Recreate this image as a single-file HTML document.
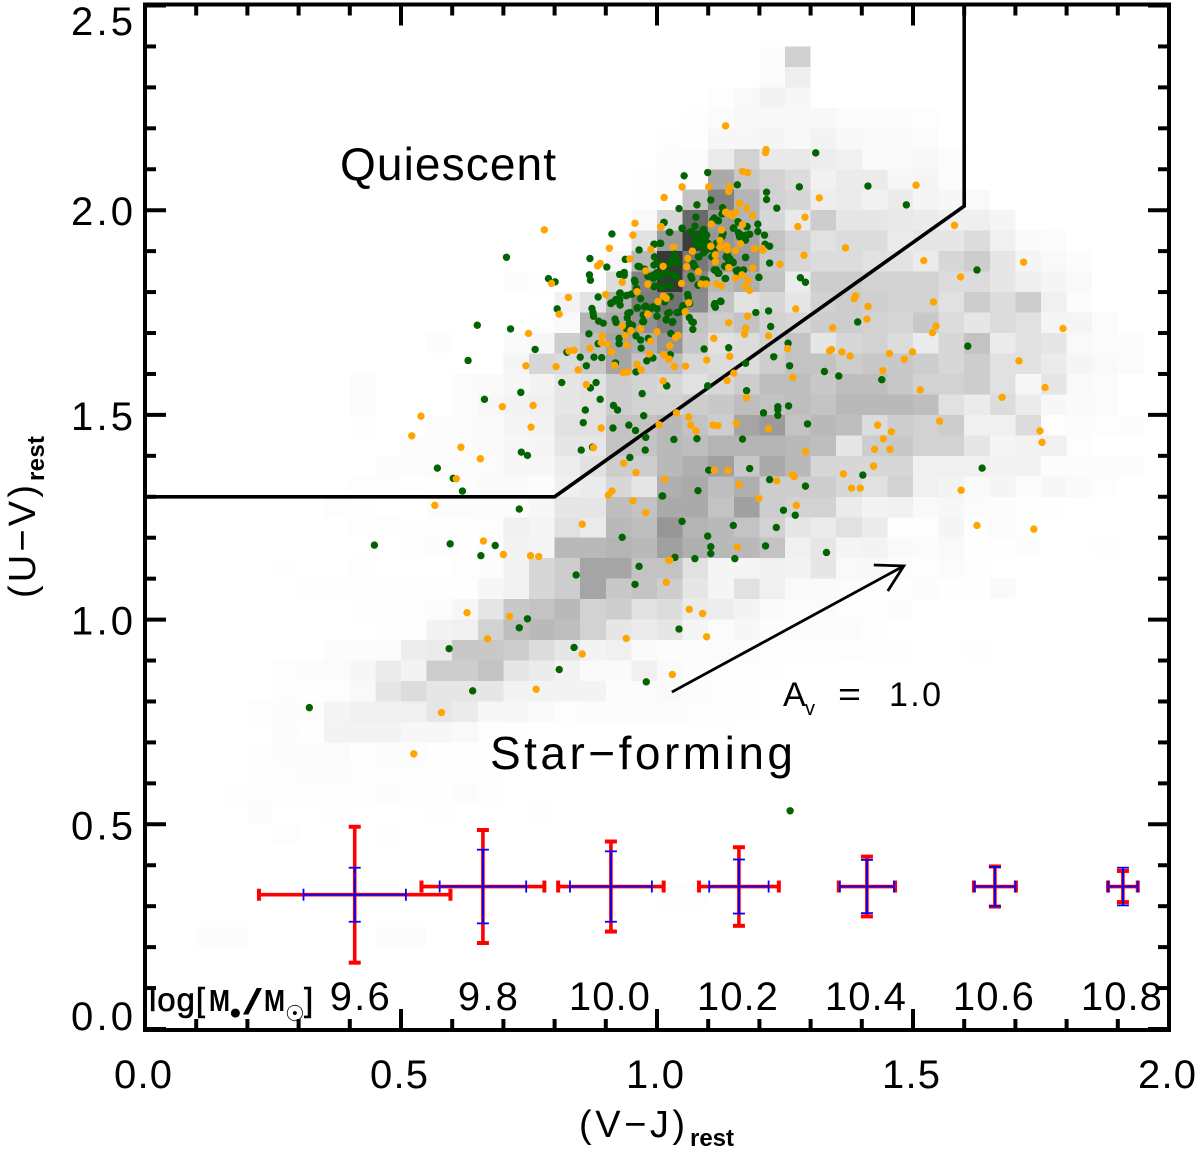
<!DOCTYPE html>
<html lang="en">
<head>
<meta charset="utf-8">
<title>UVJ colour-colour diagram</title>
<style>
html,body{margin:0;padding:0;background:#fff;width:1200px;height:1150px;overflow:hidden}
svg{display:block}
text{font-family:"Liberation Sans","DejaVu Sans",sans-serif;fill:#000}
</style>
</head>
<body>
<svg id="chart" xmlns="http://www.w3.org/2000/svg" width="1200" height="1150" viewBox="0 0 1200 1150">
<g id="heat" shape-rendering="crispEdges"></g>
<g id="sel"></g>
<g id="green"></g>
<g id="orange"></g>
<g id="errs"></g>
<g id="arrow"></g>
<g id="axes"></g>
<g id="labels"></g>

<text x="340" y="180" font-size="46" textLength="216" lengthAdjust="spacing">Quiescent</text>
<text x="490" y="769" font-size="46" textLength="303" lengthAdjust="spacing">Star−forming</text>
<g>
<text x="783" y="706" font-size="34">A</text>
<text x="805" y="715" font-size="20">v</text>
<text x="838" y="706" font-size="34" textLength="23" lengthAdjust="spacingAndGlyphs">=</text>
<text x="889" y="706" font-size="34" textLength="52" lengthAdjust="spacing">1.0</text>
</g>
<g>
<text x="579" y="1137" font-size="38" textLength="106" lengthAdjust="spacing">(V−J)</text>
<text x="690" y="1146" font-size="24" font-weight="bold" textLength="44" lengthAdjust="spacing">rest</text>
</g>
<g>
<text transform="translate(35,598) rotate(-90)" font-size="38" textLength="113" lengthAdjust="spacing">(U−V)</text>
<text transform="translate(44,481) rotate(-90)" font-size="24" font-weight="bold" textLength="45" lengthAdjust="spacing">rest</text>
</g>
<g>
<text x="149" y="1011" font-size="33" stroke="#000" stroke-width="0.6" textLength="56" lengthAdjust="spacing">log[</text>
<text x="209" y="1011" font-size="31" font-weight="bold" textLength="21" lengthAdjust="spacingAndGlyphs">M</text>
<text x="229" y="1019" font-size="21">●</text>
<text x="243" y="1014" font-size="36" textLength="19" lengthAdjust="spacingAndGlyphs">/</text>
<text x="264" y="1011" font-size="31" font-weight="bold" textLength="21" lengthAdjust="spacingAndGlyphs">M</text>
<text x="285" y="1021" font-size="22" style="font-family:'DejaVu Sans',sans-serif">☉</text>
<text x="304" y="1011" font-size="33" stroke="#000" stroke-width="0.6">]</text>
</g>
</svg>
<script>
// ---- tick data ----
const xMajorTicks=[0,0.5,1,1.5,2];
const xTickLabels=["0.0","0.5","1.0","1.5","2.0"];
const xMinorTicks=[0.1,0.2,0.3,0.4,0.6,0.7,0.8,0.9,1.1,1.2,1.3,1.4,1.6,1.7,1.8,1.9];
const yMajorTicks=[0,0.5,1,1.5,2,2.5];
const yTickLabels=["0.0","0.5","1.0","1.5","2.0","2.5"];
const yMinorTicks=[0.1,0.2,0.3,0.4,0.6,0.7,0.8,0.9,1.1,1.2,1.3,1.4,1.6,1.7,1.8,1.9,2.1,2.2,2.3,2.4];

// ---- selection boundary ----
const boundaryVJ=[0,0.8,1.6,1.6];
const boundaryUV=[1.3,1.3,2.01,2.5];

// ---- extinction arrow ----
const arrowStart=[1.029,0.823];
const arrowEnd=[1.482,1.131];

// ---- heatmap: bin lower edges (bin size 0.05) and darkness per bin ----
const heatBinSize=0.05;
const heatRowUV=[2.35,2.30,2.25,2.20,2.15,2.10,2.05,2.00,1.95,1.90,1.85,1.80,1.75,1.70,1.65,1.60,1.55,1.50,1.45,1.40,1.35,1.30,1.25,1.20,1.15,1.10,1.05,1.00,0.95,0.90,0.85,0.80,0.75,0.70,0.65,0.60,0.55,0.50,0.45,0.30,0.20];
const heatRowStartVJ=[1.20,1.20,1.10,1.05,1.00,1.00,0.95,0.95,0.95,0.95,0.90,0.70,0.80,0.75,0.55,0.70,0.40,0.40,0.40,0.50,0.45,0.40,0.35,0.40,0.50,0.25,0.30,0.40,0.45,0.35,0.25,0.25,0.20,0.25,0.20,0.20,0.15,0.20,0.25,1.00,0.10];
const heatRowValues=[
[3,47],
[4,17],
[2,6,12,8],
[1,4,7,7,7,7,4,3,3,2],
[2,1,8,8,10,7,12,7,6,5,4],
[3,4,20,45,22,22,18,14,5,5,7,3],
[2,4,3,85,55,45,35,14,20,20,8,10,3],
[1,3,60,125,75,45,40,18,20,14,20,10,8,6],
[6,40,150,100,75,40,22,50,25,25,22,20,16,16,10],
[30,100,195,105,95,60,45,30,35,35,20,25,25,35,15,5,4],
[8,70,200,135,110,100,55,40,35,35,30,28,20,40,50,25,10,6,3],
[3,1,0,0,35,125,200,120,70,80,60,20,50,50,45,45,45,35,35,25,16,10,6],
[12,28,75,130,140,115,60,30,40,25,45,50,48,45,45,30,50,35,50,15,3],
[2,6,75,85,110,130,60,50,60,45,40,50,50,45,40,55,35,25,35,30,10,10,4],
[3,0,0,6,8,50,65,90,80,105,55,30,35,45,60,25,40,45,35,20,40,60,20,30,25,6,4,3],
[10,40,35,55,90,60,65,40,35,35,50,60,60,50,55,55,50,40,50,30,30,20,10,6,4],
[3,0,0,0,4,5,8,12,25,30,50,45,40,30,40,50,65,65,55,65,65,55,45,45,50,30,8,25,6,4],
[3,0,0,0,3,8,12,15,25,30,50,45,45,50,55,65,60,65,60,70,70,70,65,30,20,35,20,8,5,4],
[1,0,0,3,4,5,10,12,30,30,60,60,70,60,50,90,100,60,70,65,35,50,45,50,15,15,35,2,3,2,3],
[3,3,4,5,8,10,25,25,60,60,70,65,75,75,75,70,65,25,50,55,45,45,25,10,12,15,2],
[3,3,4,4,4,8,8,18,30,50,50,70,80,95,55,85,70,40,40,40,40,15,15,15,12,12,3,3,3,3],
[2,2,1,2,3,5,5,3,15,20,40,25,80,85,65,80,50,50,50,40,30,45,15,12,6,10,3,8,5,2],
[2,1,0,0,4,3,3,3,8,25,25,65,60,85,85,60,95,50,45,45,20,12,15,6,8,4,3,2,1],
[2,2,1,1,1,2,15,10,30,20,70,65,105,75,70,60,45,25,20,30,20,2,2,10,2,4,1],
[2,3,1,3,12,10,70,70,75,70,95,80,70,70,60,15,25,10,12,6,4,6,1,1,3,0,0,1],
[1,0,0,2,0,0,0,2,3,12,40,50,90,90,60,60,30,10,10,15,12,25,6,7,3,2,4,1],
[1,1,1,1,1,1,1,8,12,40,50,90,55,60,50,25,10,30,15,6,5,4,2,1,3,1,1,5],
[1,1,2,3,8,25,55,60,70,45,50,30,35,20,18,12,5,3,4,2,2,3],
[1,1,12,15,45,65,70,65,45,25,20,25,10,4,8,3,3,3,3,1],
[3,3,3,18,20,55,55,50,35,25,12,15,5,3,3,4,3,2,1,1,2,1,1,0,0,1],
[2,3,4,8,20,12,50,50,60,25,20,12,5,5,15,5,3,2,2,2],
[2,1,2,6,25,35,25,25,25,12,12,12,12,3,3,5,3,2,2],
[2,3,3,10,15,15,15,25,20,8,8,5,2,3,3,3,3,2,2,1],
[3,1,12,12,12,8,8,6,2,1],
[1,3,3,4,1,3,3,1,1,1],
[2,2,3,3,2,2,2,2,2,1],
[1,2,1,1,1,1,3,1,1,3,1],
[3,0,0,1,0,0,0,1,0,0,0,1],
[2,0,0,0,1],
[2,2],
[3,3,0,0,0,0,0,3,3]
];

// ---- scatter points: [V-J, U-V] ----
const greenPoints=[
[.706,1.885],[.912,1.942],[1.013,1.970],[.995,1.917],[1.006,1.919],[.965,1.903],[.869,1.882],[.902,1.861],[.938,1.880],[.995,1.886],[.999,1.870],[.963,1.863],[.976,1.856],[.868,1.842],[.870,1.829],[.788,1.833],[.801,1.825],[.927,1.843],[.936,1.848],[.936,1.841],[.988,1.838],[.994,1.842],[.999,1.847],[1.006,1.838],[.993,1.834],[1.018,1.846],[.957,1.825],[.996,1.815],[1.010,1.813],[.960,1.809],[.885,1.788],[.928,1.798],[.941,1.792],[.951,1.795],[.968,1.784],[.910,1.773],[.920,1.782],[.927,1.783],[.928,1.768],[.917,1.778],[.805,1.759],[.873,1.760],[.875,1.750],[.876,1.741],[.961,1.761],[.978,1.766],[.988,1.760],[1.000,1.759],[.973,1.744],[.947,1.750],[.942,1.737],[1.018,1.733],[.974,1.728],[.918,1.734],[.920,1.726],[.886,1.729],[.895,1.724],[.952,1.719],[.941,1.709],[.649,1.719],[.714,1.710],[.867,1.698],[.926,1.687],[.926,1.674],[.959,1.693],[.968,1.683],[.983,1.687],[.885,1.674],[.762,1.660],[.969,1.663],[.824,1.653],[.850,1.641],[.877,1.641],[.892,1.640],[.631,1.633],[.992,1.639],[.980,1.632],[.862,1.620],[.919,1.627],[.959,1.605],[.814,1.579],[.881,1.579],[.870,1.566],[.734,1.555],[.971,1.552],[1.019,1.571],[.663,1.538],[.889,1.538],
[1.310,2.140],[1.099,2.092],[1.053,2.084],[1.157,2.062],[1.278,2.057],[1.412,2.059],[1.487,2.013],[1.214,2.044],[1.214,2.026],[1.105,2.025],[1.078,2.013],[1.234,2.005],[1.043,2.004],[1.128,2.006],[1.127,1.991],[1.076,1.983],[1.112,1.981],[1.119,1.975],[1.014,1.970],[1.159,1.971],[1.175,1.960],[1.197,1.966],[1.197,1.948],[1.049,1.956],[1.074,1.961],[1.149,1.956],[1.091,1.953],[1.025,1.946],[1.066,1.947],[1.159,1.945],[1.161,1.935],[1.173,1.927],[1.180,1.941],[1.174,1.939],[1.210,1.939],[1.081,1.938],[1.087,1.941],[1.097,1.939],[1.076,1.925],[1.084,1.923],[1.094,1.929],[1.090,1.915],[1.007,1.919],[1.211,1.917],[1.220,1.912],[1.097,1.903],[1.091,1.896],[1.111,1.901],[1.107,1.886],[1.137,1.891],[1.142,1.880],[1.149,1.872],[1.140,1.874],[1.173,1.884],[1.034,1.893],[1.037,1.882],[1.028,1.878],[1.025,1.868],[1.041,1.870],[1.081,1.886],[1.220,1.871],[1.132,1.863],[1.116,1.854],[1.121,1.846],[1.158,1.854],[1.169,1.854],[1.158,1.844],[1.071,1.870],[1.074,1.862],[1.018,1.846],[1.031,1.842],[1.038,1.836],[1.066,1.839],[1.068,1.833],[1.199,1.836],[1.134,1.833],[1.280,1.835],[1.290,1.824],[1.091,1.829],[1.094,1.821],[1.081,1.817],[1.010,1.813],[1.025,1.816],[1.060,1.794],[1.061,1.786],[1.026,1.789],[1.015,1.776],[1.125,1.777],[1.113,1.772],[1.114,1.763],[1.051,1.767],[1.193,1.750],[1.218,1.754],[1.021,1.748],[1.039,1.750],[1.045,1.752],[1.063,1.738],[1.068,1.728],[1.071,1.726],[1.018,1.732],[1.030,1.726],[1.392,1.727],[1.222,1.716],[1.070,1.709],[1.027,1.699],[1.256,1.675],[1.092,1.661],[1.140,1.664],[1.607,1.668],[1.625,1.854],[1.026,1.647],[1.228,1.642],[1.173,1.626],[1.259,1.620],[1.327,1.606],[1.355,1.595],[1.439,1.586],[1.019,1.571],[1.099,1.571],[1.175,1.559],
[.915,1.523],[.923,1.512],[.860,1.512],[.974,1.498],[.856,1.481],[.914,1.468],[.945,1.475],[.958,1.462],[.978,1.445],[.852,1.414],[.874,1.421],[.977,1.414],[.735,1.409],[.747,1.401],[.947,1.396],[.571,1.370],[.602,1.345],[.620,1.314],[1.011,1.302],[.731,1.270],[.932,1.201],[.448,1.182],[.596,1.185],[.684,1.181],[.656,1.156],[.965,1.130],[.842,1.109],[.957,1.086],[.747,1.002],[.731,.980],[.594,.929],[.838,.932],[.809,.878],[.979,.848],[.640,.826],[.321,.785],
[1.236,1.520],[1.236,1.513],[1.236,1.499],[1.257,1.522],[1.208,1.505],[1.294,1.478],[1.033,1.440],[1.078,1.442],[1.167,1.441],[1.101,1.365],[1.181,1.369],[1.635,1.370],[1.402,1.353],[1.220,1.342],[1.290,1.326],[1.080,1.315],[1.010,1.302],[1.247,1.267],[1.270,1.255],[1.049,1.240],[1.149,1.230],[1.233,1.225],[1.099,1.204],[1.105,1.178],[1.105,1.161],[1.212,1.180],[1.331,1.164],[1.035,1.152],[1.074,1.149],[1.152,1.149],[1.043,.977],[1.260,.533],
[1.005,1.868],[1.034,1.878],[1.031,1.842],[1.037,1.838],[1.018,1.847],[1.075,1.927],[1.090,1.952],[1.091,1.935],[1.096,1.903],[1.082,1.886],[1.070,1.866],[1.077,1.911],[1.100,1.919],[1.065,1.947],[1.049,1.956],[1.024,1.946],[.994,1.917],[1.007,1.919],[.994,1.866],[.982,1.839],[.992,1.839],[1.004,1.844],[1.011,1.813],[.994,1.813],[1.026,1.817],[.956,1.829],[.966,1.862],[.976,1.764],[.992,1.764],[1.000,1.741],[1.018,1.732],[1.031,1.728],[1.041,1.750],[1.060,1.794],[1.064,1.772],[1.050,1.764],[1.024,1.750],[.972,1.728],[.962,1.762],[.943,1.748],[.946,1.723],[.927,1.797],[.940,1.791],[.950,1.795],[.910,1.772],[.927,1.780],
[1.080,1.817],[1.090,1.831],[1.096,1.829],[1.133,1.833],[1.112,1.854],[1.119,1.846],[1.142,1.882],[1.148,1.874],[1.135,1.886],[1.127,1.935],[1.116,1.919],[1.129,1.943],[1.109,1.976],[1.120,1.974],[1.150,1.957],[1.158,1.972],[1.176,1.960],[1.165,1.939],[1.181,1.941],[1.173,1.885],[1.155,1.852],[1.167,1.852],[1.199,1.836],[1.112,1.768],[1.124,1.778]
];
const orangePoints=[
[.780,1.952],[.957,1.968],[1.014,2.031],[1.007,1.959],[.953,1.939],[.907,1.907],[.988,1.904],[.947,1.881],[.889,1.870],[.884,1.864],[1.012,1.863],[.978,1.852],[.932,1.824],[.982,1.819],[.794,1.821],[.961,1.801],[.900,1.794],[.827,1.787],[1.012,1.790],[1.002,1.777],[.809,1.746],[.982,1.746],[.932,1.717],[.949,1.706],[.968,1.710],[.749,1.699],[1.000,1.703],[.893,1.693],[.938,1.694],[.988,1.680],[.891,1.677],[.903,1.673],[.941,1.671],[.869,1.663],[.828,1.656],[.838,1.658],[.911,1.654],[.985,1.649],[1.013,1.647],[1.023,1.636],[.744,1.620],[.803,1.618],[.961,1.623],[.917,1.621],[.846,1.610],[.969,1.610],[.934,1.603],[.943,1.605],[1.012,1.583],[.862,1.574],
[1.134,2.206],[1.213,2.148],[1.212,2.141],[1.167,2.095],[1.177,2.092],[1.101,2.057],[1.049,2.057],[1.142,2.057],[1.140,2.046],[1.317,2.030],[1.506,2.061],[1.161,2.017],[1.175,2.005],[1.134,1.995],[1.140,1.991],[1.147,1.987],[1.154,1.995],[1.187,1.987],[1.289,1.983],[1.106,1.966],[1.167,1.965],[1.275,1.960],[1.581,1.963],[1.008,1.960],[1.126,1.952],[1.123,1.926],[1.368,1.908],[1.105,1.912],[1.123,1.910],[1.136,1.913],[1.137,1.903],[1.032,1.910],[1.069,1.900],[1.114,1.891],[1.153,1.901],[1.163,1.918],[1.190,1.906],[1.205,1.907],[1.207,1.902],[1.060,1.882],[1.287,1.890],[1.521,1.877],[1.716,1.873],[1.114,1.874],[1.240,1.868],[1.058,1.862],[1.140,1.860],[1.187,1.859],[1.081,1.850],[1.593,1.837],[1.166,1.842],[1.153,1.834],[1.178,1.829],[1.048,1.821],[1.086,1.820],[1.096,1.820],[1.116,1.820],[1.126,1.815],[1.172,1.814],[1.181,1.804],[1.018,1.785],[1.062,1.774],[1.385,1.784],[1.388,1.791],[1.540,1.776],[1.412,1.765],[1.271,1.759],[1.055,1.752],[1.177,1.741],[1.410,1.734],[1.140,1.725],[1.545,1.717],[1.343,1.713],[1.173,1.712],[1.171,1.697],[1.538,1.701],[1.793,1.711],[1.218,1.693],[1.041,1.694],[1.036,1.689],[1.111,1.687],[1.025,1.669],[1.255,1.662],[1.341,1.660],[1.337,1.656],[1.361,1.654],[1.377,1.644],[1.454,1.650],[1.499,1.654],[1.483,1.636],[1.707,1.632],[1.014,1.646],[1.024,1.636],[1.142,1.643],[1.097,1.634],[1.056,1.619],[1.034,1.618],[1.441,1.608],[1.150,1.602],[1.137,1.584],[1.265,1.592],[1.514,1.561],[1.758,1.567],[1.674,1.543],[1.175,1.542],
[.539,1.497],[.698,1.520],[.758,1.523],[.521,1.449],[.754,1.470],[.891,1.468],[.617,1.421],[.655,1.393],[.876,1.420],[1.004,1.476],[.935,1.382],[.959,1.359],[1.015,1.343],[.608,1.344],[.912,1.314],[.905,1.304],[.953,1.290],[.566,1.279],[.978,1.261],[.854,1.233],[.661,1.192],[.700,1.159],[.753,1.156],[.769,1.154],[1.023,1.145],[1.018,1.091],[.629,1.017],[.712,1.008],[.669,.953],[.940,.954],[.854,.916],[.764,.830],[.579,.773],[.525,.672],
[1.038,1.505],[1.062,1.495],[1.066,1.475],[1.076,1.461],[1.109,1.475],[1.119,1.474],[1.155,1.479],[1.218,1.466],[1.431,1.475],[1.458,1.459],[1.442,1.442],[1.425,1.416],[1.455,1.416],[1.552,1.485],[1.748,1.461],[1.752,1.433],[1.290,1.410],[1.423,1.375],[1.112,1.365],[1.138,1.364],[1.364,1.356],[1.264,1.354],[1.268,1.349],[1.234,1.339],[1.160,1.330],[1.380,1.321],[1.397,1.321],[1.594,1.316],[1.199,1.296],[1.272,1.279],[1.625,1.230],[1.736,1.221],[1.157,1.177],[1.025,1.145],[1.063,1.025],[1.089,1.015],[1.097,.958],[1.030,.866]
];

// ---- error bars per stellar-mass bin ----
const massLabels=["9.6","9.8","10.0","10.2","10.4","10.6","10.8"];
const errCenterVJ=[.4096,.660,.910,1.160,1.410,1.660,1.910];
const errCenterUV=[.328,.348,.348,.348,.348,.348,.348];
const redErrVJ=[.187,.120,.103,.078,.055,.041,.029];
const redErrUV=[.166,.138,.110,.096,.073,.049,.038];
const blueErrVJ=[.100,.0845,.080,.058,.053,.040,.029];
const blueErrUV=[.066,.090,.086,.066,.065,.048,.046];

// ---- axis functions ----
const X0=145,XS=512,Y0=1029,YS=409.4;
function px(v){return X0+v*XS;}
function py(v){return Y0-v*YS;}
const NS='http://www.w3.org/2000/svg';
function make(tag,parent,attrs){
  const el=document.createElementNS(NS,tag);
  for(const k in attrs){el.setAttribute(k,attrs[k]);}
  parent.appendChild(el);
  return el;
}
const heat=document.getElementById('heat');
heatRowValues.forEach(function(vals,r){
  vals.forEach(function(v,i){
    if(!v){return;}
    const g=255-v;
    const x1=px(heatRowStartVJ[r]+i*heatBinSize),x2=px(heatRowStartVJ[r]+(i+1)*heatBinSize);
    const y2=py(heatRowUV[r]),y1=py(heatRowUV[r]+heatBinSize);
    const c=make('rect',heat,{x:x1,y:y1,width:x2-x1,height:y2-y1,fill:'rgb('+g+','+g+','+g+')'});
    
    
  });
});
const sel=document.getElementById('sel');
const boundaryPts=boundaryVJ.map(function(v,i){return px(v)+','+py(boundaryUV[i]);}).join(' ');
const boundaryLine=make('polyline',sel,{points:boundaryPts,fill:'none',stroke:'#000','stroke-width':3.6});



const greenG=document.getElementById('green');
greenPoints.forEach(function(p){
  const c=make('circle',greenG,{cx:px(p[0]),cy:py(p[1]),r:3.7,fill:'#006400'});
  
  
});
const orangeG=document.getElementById('orange');
orangePoints.forEach(function(p){
  const c=make('circle',orangeG,{cx:px(p[0]),cy:py(p[1]),r:3.7,fill:'#ffa500'});
  
  
});

const errs=document.getElementById('errs');
function drawErr(i,dx,dy,color,w,capW,cap){
  const cx=px(errCenterVJ[i]),cy=py(errCenterUV[i]);
  const xl=px(errCenterVJ[i]-dx),xr=px(errCenterVJ[i]+dx);
  const yt=py(errCenterUV[i]+dy),yb=py(errCenterUV[i]-dy);
  const segs=[[xl,cy,xr,cy,w],[cx,yt,cx,yb,w],[xl,cy-cap,xl,cy+cap,capW],[xr,cy-cap,xr,cy+cap,capW],[cx-cap,yt,cx+cap,yt,capW],[cx-cap,yb,cx+cap,yb,capW]];
  segs.forEach(function(s){
    const l=make('line',errs,{x1:s[0],y1:s[1],x2:s[2],y2:s[3],stroke:color,'stroke-width':s[4]});
    
    
  });
}
massLabels.forEach(function(m,i){drawErr(i,redErrVJ[i],redErrUV[i],'#ff0000',3.6,4,6);});
massLabels.forEach(function(m,i){drawErr(i,blueErrVJ[i],blueErrUV[i],'#0000ff',1.8,1.8,6);});

const arrowG=document.getElementById('arrow');
const ax=px(arrowEnd[0]),ay=py(arrowEnd[1]);
const arrowShaft=make('line',arrowG,{x1:px(arrowStart[0]),y1:py(arrowStart[1]),x2:ax,y2:ay,stroke:'#000','stroke-width':2.8});


const arrowHead=make('polyline',arrowG,{points:(ax-30)+','+(ay-1)+' '+ax+','+ay+' '+(ax-16)+','+(ay+25),fill:'none',stroke:'#000','stroke-width':2.8});



const axes=document.getElementById('axes');
const frame=make('rect',axes,{x:145,y:4.5,width:1024,height:1025.5,fill:'none',stroke:'#000','stroke-width':4});


function tickX(v,len){
  [[1030,1030-len],[4.5,4.5+len]].forEach(function(e){
    const l=make('line',axes,{x1:px(v),y1:e[0],x2:px(v),y2:e[1],stroke:'#000','stroke-width':4});
    
    
  });
}
function tickY(v,len){
  [[145,145+len],[1169,1169-len]].forEach(function(e){
    const l=make('line',axes,{x1:e[0],y1:py(v),x2:e[1],y2:py(v),stroke:'#000','stroke-width':4});
    
    
  });
}
xMajorTicks.forEach(function(v){tickX(v,21);});
xMinorTicks.forEach(function(v){tickX(v,11);});
yMajorTicks.forEach(function(v){tickY(v,21);});
yMinorTicks.forEach(function(v){tickY(v,11);});

const labels=document.getElementById('labels');
function label(txt,x,y,anchor,len,name){
  const t=make('text',labels,{x:x,y:y,'font-size':40,'text-anchor':anchor,textLength:len,lengthAdjust:'spacing'});
  t.textContent=txt;
  
  
}
xMajorTicks.forEach(function(v,i){label(xTickLabels[i],px(v)-2,1088,'middle',58,'x-tick-label');});
yMajorTicks.forEach(function(v,i){
  const b=Math.max(35,Math.min(1030,py(v)+15));
  label(yTickLabels[i],133,b,'end',62,'y-tick-label');
});
massLabels.forEach(function(m,i){
  const cx=px(errCenterVJ[i])+(m.length>3?-1.5:5);
  label(m,cx,1010,'middle',m.length>3?81:60,'mass-bin-label');
});
</script>
</body>
</html>
